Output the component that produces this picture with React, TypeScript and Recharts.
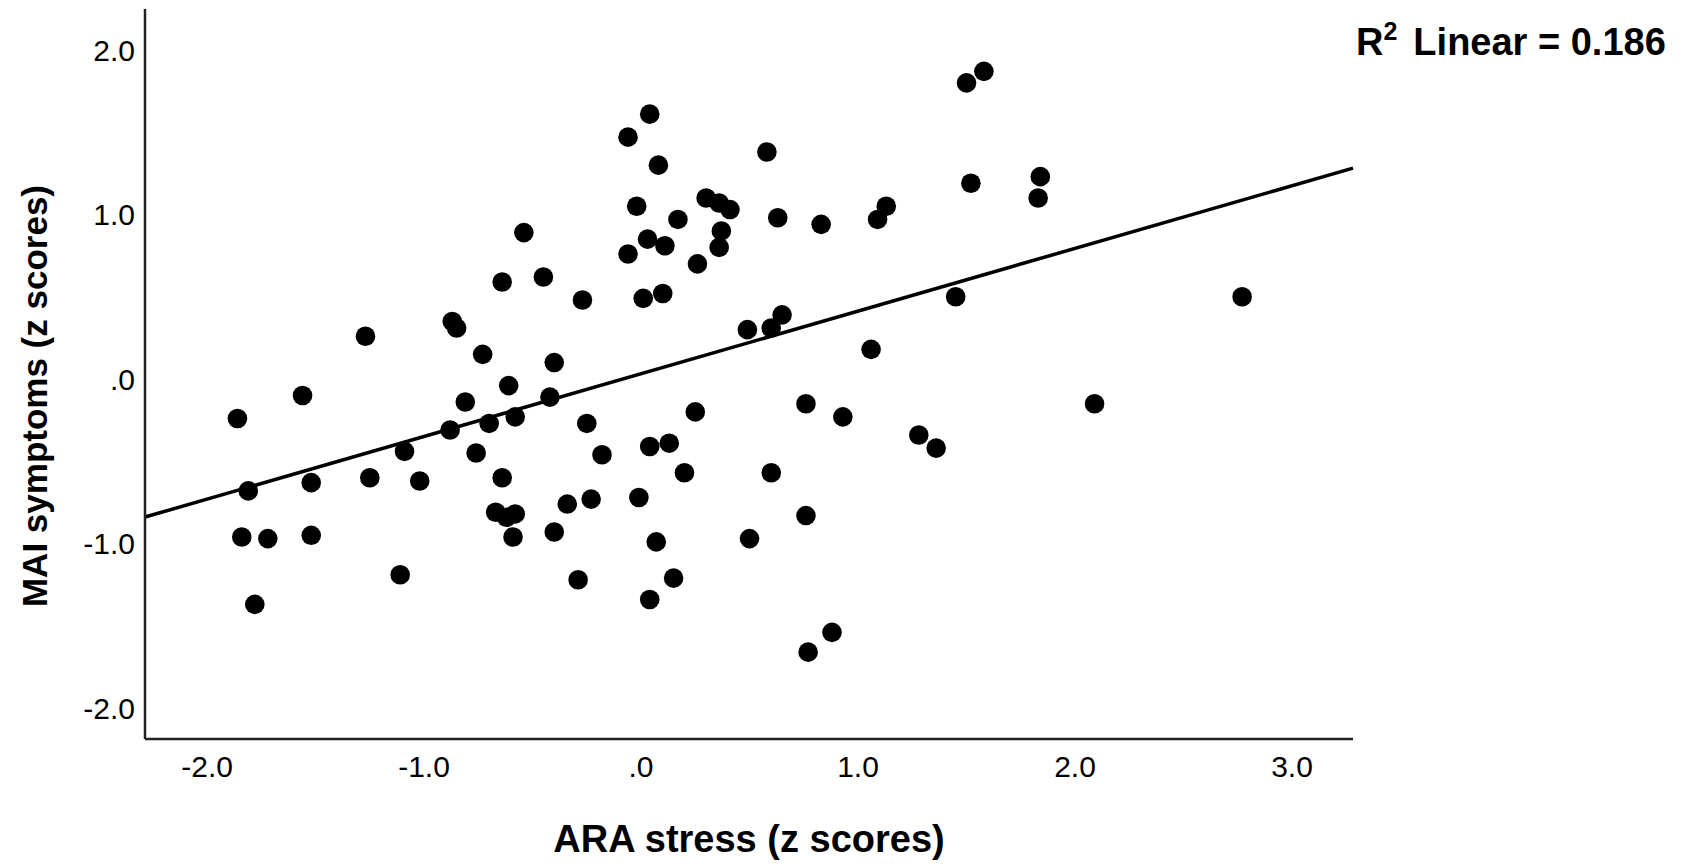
import { Label, ReferenceLine, Scatter, ScatterChart, XAxis, YAxis } from 'recharts';

// ARA stress (z) per participant
const araStress = [
  -0.54, -0.64, -0.45, -0.27, -1.27, -0.87, -0.85, -0.73, -0.4, -1.56,
  -1.86, -0.61, -0.81, -0.88, -0.7, -0.58, -0.42, -0.25, -0.18, -1.09,
  -0.76, -1.81, -1.52, -1.25, -1.02, -0.64, -0.23, -0.34, -0.67, -0.62,
  -0.58, -0.59, -0.4, -1.84, -1.72, -1.52, -1.11, -0.29, -1.78, 0.04,
  -0.06, 0.08, 0.58, 1.5, 1.58, -0.02, 0.17, 0.3, 0.36, 0.41,
  0.63, 0.83, 1.13, 1.09, 1.52, 1.84, 1.83, 0.03, 0.11, -0.06,
  0.37, 0.36, 0.26, 0.01, 0.1, 0.49, 0.6, 0.65, 1.45, 1.06,
  0.25, 0.76, 0.93, 1.28, 1.36, 0.04, 0.13, 0.2, 0.6, -0.01,
  0.07, 0.5, 0.76, 0.15, 0.04, 0.88, 0.77, 2.77, 2.09,
];

// MAI symptoms (z), same order
const maiSymptoms = [
  0.89, 0.59, 0.62, 0.48, 0.26, 0.35, 0.31, 0.15, 0.1, -0.1,
  -0.24, -0.04, -0.14, -0.31, -0.27, -0.23, -0.11, -0.27, -0.46, -0.44,
  -0.45, -0.68, -0.63, -0.6, -0.62, -0.6, -0.73, -0.76, -0.81, -0.84,
  -0.82, -0.96, -0.93, -0.96, -0.97, -0.95, -1.19, -1.22, -1.37, 1.61,
  1.47, 1.3, 1.38, 1.8, 1.87, 1.05, 0.97, 1.1, 1.07, 1.03,
  0.98, 0.94, 1.05, 0.97, 1.19, 1.23, 1.1, 0.85, 0.81, 0.76,
  0.9, 0.8, 0.7, 0.49, 0.52, 0.3, 0.31, 0.39, 0.5, 0.18,
  -0.2, -0.15, -0.23, -0.34, -0.42, -0.41, -0.39, -0.57, -0.57, -0.72,
  -0.99, -0.97, -0.83, -1.21, -1.34, -1.54, -1.66, 0.5, -0.15,
];

const xTicks = [-2, -1, 0, 1, 2, 3];
const yTicks = [-2, -1, 0, 1, 2];
const xDomain = [-2.286, 3.281];
const yDomain = [-2.188, 2.249];

// fit line as drawn in the figure
const fitSlope = 0.381;
const fitIntercept = 0.032;
const rSquared = '0.186';

const points = araStress.map((x, i) => ({ x, y: maiSymptoms[i] }));

const font = '"Liberation Sans", Arial, sans-serif';
const axisColor = '#222';

const fmt = (v: number) => (v === 0 ? '.0' : v.toFixed(1));

const Dot = (props: any) => <circle cx={props.cx} cy={props.cy} r={9.8} fill="#000" />;

const YTitle = (props: any) => {
  const { x, y, height } = props.viewBox;
  const cx = x + 34;
  const cy = y + height / 2 + 22;
  return (
    <text
      x={cx}
      y={cy}
      transform={`rotate(-90 ${cx} ${cy})`}
      textAnchor="middle"
      dominantBaseline="central"
      fontFamily={font}
      fontWeight="bold"
      fontSize={35}
      fill="#000"
    >
      MAI symptoms (z scores)
    </text>
  );
};

export default function App() {
  return (
    <div style={{ position: 'absolute', left: 0, top: 0, width: 1683, height: 864, background: '#fff' }}>
      <ScatterChart
        width={1683}
        height={864}
        margin={{ top: 9, right: 330, bottom: 0, left: 0 }}
        style={{ fontFamily: font }}
      >
        <XAxis
          type="number"
          dataKey="x"
          domain={xDomain}
          ticks={xTicks}
          allowDataOverflow
          tickFormatter={fmt}
          height={125}
          tickLine={false}
          tickSize={0}
          tickMargin={17}
          axisLine={{ stroke: axisColor, strokeWidth: 2.5 }}
          tick={{ fill: '#000', fontSize: 30, fontFamily: font }}
        >
          <Label
            value="ARA stress (z scores)"
            position="insideBottom"
            offset={12}
            fill="#000"
            fontSize={38}
            fontWeight="bold"
            fontFamily={font}
          />
        </XAxis>
        <YAxis
          type="number"
          dataKey="y"
          domain={yDomain}
          ticks={yTicks}
          allowDataOverflow
          tickFormatter={fmt}
          width={145}
          tickLine={false}
          tickSize={0}
          tickMargin={10}
          axisLine={{ stroke: axisColor, strokeWidth: 2.5 }}
          tick={{ fill: '#000', fontSize: 30, fontFamily: font }}
        >
          <Label content={YTitle} />
        </YAxis>
        <Scatter data={points} shape={Dot} isAnimationActive={false} />
        <ReferenceLine
          segment={[
            { x: xDomain[0], y: fitIntercept + fitSlope * xDomain[0] },
            { x: xDomain[1], y: fitIntercept + fitSlope * xDomain[1] },
          ]}
          stroke="#000"
          strokeWidth={3.5}
          ifOverflow="visible"
        />
      </ScatterChart>
      <svg
        width={340}
        height={80}
        style={{ position: 'absolute', left: 1340, top: 0, overflow: 'visible' }}
      >
        <text x={16} y={55} fontFamily={font} fontWeight="bold" fontSize={38} fill="#000">
          R
          <tspan dy={-15} fontSize={25}>2</tspan>
          <tspan dy={15} dx={16}>Linear = {rSquared}</tspan>
        </text>
      </svg>
    </div>
  );
}
